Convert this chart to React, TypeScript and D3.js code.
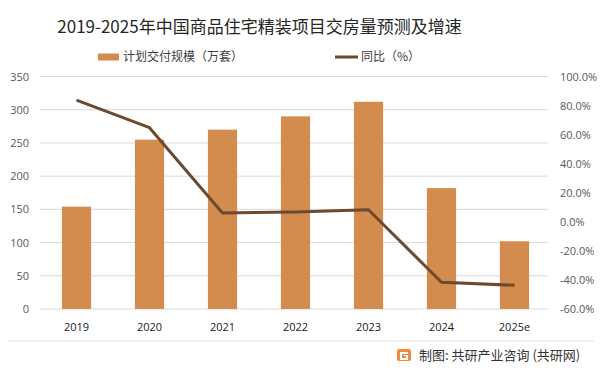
import { useMemo } from 'react'
import { scaleBand, scaleLinear, line } from 'd3'

const YEARS = ['2019', '2020', '2021', '2022', '2023', '2024', '2025e']
// 计划交付规模（万套）
const VOLUME = [154, 255, 270, 290, 312, 182, 102]
// 同比（%）
const GROWTH = [83.7, 64.8, 6.1, 6.8, 8.3, -41.6, -43.7]

const LEFT_TICKS = [0, 50, 100, 150, 200, 250, 300, 350]
const RIGHT_TICKS = [-60, -40, -20, 0, 20, 40, 60, 80, 100]

const W = 602
const H = 374
const X0 = 40
const X1 = 551
const TOP = 76.5
const BOTTOM = 309

const BAR = '#D38B4E'
const LINE = '#6A4A30'
const CJK = '"Noto Sans CJK SC", "Noto Sans", sans-serif'
const NUM = '"Open Sans", "Noto Sans", sans-serif'

export default function App() {
  const { x, yL, yR, path } = useMemo(() => {
    const x = scaleBand<string>().domain(YEARS).range([X0, X1]).paddingInner(0.6).paddingOuter(0.3)
    const yL = scaleLinear().domain([0, 350]).range([BOTTOM, TOP])
    const yR = scaleLinear().domain([-60, 100]).range([BOTTOM, TOP])
    const path = line<number>()
      .x((_, i) => (x(YEARS[i]) ?? 0) + x.bandwidth() / 2)
      .y((d) => yR(d))(GROWTH)
    return { x, yL, yR, path }
  }, [])

  return (
    <div style={{ position: 'absolute', left: 0, top: 0 }}>
      <svg width={W} height={H} viewBox={`0 0 ${W} ${H}`} style={{ display: 'block', background: '#fff' }}>
        <text x={259.5} y={33} textAnchor="middle" fontFamily={CJK} fontSize={17} fill="#262626">
          2019-2025年中国商品住宅精装项目交房量预测及增速
        </text>

        {/* legend */}
        <rect x={98} y={53.5} width={21} height={7} fill={BAR} />
        <text x={123} y={61} fontFamily={CJK} fontSize={12} fill="#404040">计划交付规模（万套）</text>
        <line x1={335} x2={358} y1={57} y2={57} stroke={LINE} strokeWidth={3} />
        <text x={361} y={61} fontFamily={CJK} fontSize={12} fill="#404040">同比（%）</text>

        {/* grid + left axis */}
        {LEFT_TICKS.map((t) => (
          <g key={t}>
            <line x1={X0} x2={X1 - 3} y1={yL(t)} y2={yL(t)} stroke="#d9d9d9" strokeWidth={1} />
            <text x={29} y={yL(t) + 4} textAnchor="end" fontFamily={NUM} fontSize={11} fill="#595959">
              {t}
            </text>
          </g>
        ))}

        {/* right axis */}
        {RIGHT_TICKS.map((t) => (
          <text key={t} x={560} y={yR(t) + 4} fontFamily={NUM} fontSize={11} fill="#595959">
            {t.toFixed(1)}%
          </text>
        ))}

        {/* bars */}
        {VOLUME.map((v, i) => (
          <rect
            key={YEARS[i]}
            x={x(YEARS[i])}
            y={yL(v)}
            width={x.bandwidth()}
            height={yL(0) - yL(v)}
            fill={BAR}
          />
        ))}

        {/* line */}
        <path d={path ?? ''} fill="none" stroke={LINE} strokeWidth={3} strokeLinejoin="round" />

        {/* x labels */}
        {YEARS.map((y) => (
          <text
            key={y}
            x={(x(y) ?? 0) + x.bandwidth() / 2}
            y={331}
            textAnchor="middle"
            fontFamily={NUM}
            fontSize={11}
            fill="#1a1a1a"
          >
            {y}
          </text>
        ))}

        {/* footer */}
        <line x1={8} x2={594} y1={341} y2={341} stroke="#e3e3e3" strokeWidth={1} />
        <g transform="translate(397,349)">
          <rect x={0} y={0} width={14} height={12} rx={2} fill="#F08A3C" />
          <path d="M3 3 H11 V5 H5 V9 H9 V7 H7 V6 H11 V11 H3 Z" fill="#fff" />
        </g>
        <text x={419} y={360} fontFamily={CJK} fontSize={13} fill="#333">
          制图: 共研产业咨询 (共研网)
        </text>
      </svg>
    </div>
  )
}
